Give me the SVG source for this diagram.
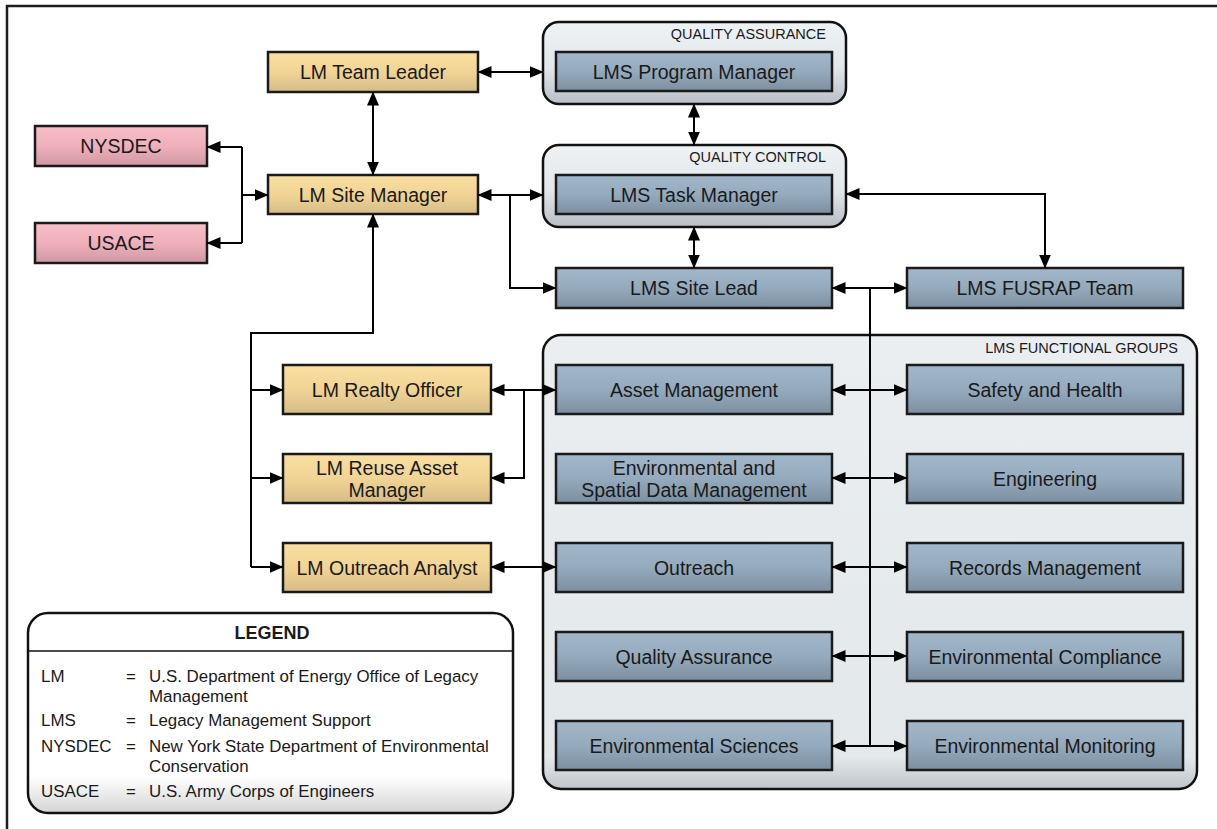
<svg xmlns="http://www.w3.org/2000/svg" width="1217" height="829" viewBox="0 0 1217 829">
<defs>
<linearGradient id="gTan" x1="0" y1="0" x2="0" y2="1"><stop offset="0" stop-color="#f9dfa2"/><stop offset="0.5" stop-color="#f1d495"/><stop offset="1" stop-color="#d5bb87"/></linearGradient>
<linearGradient id="gBlue" x1="0" y1="0" x2="0" y2="1"><stop offset="0" stop-color="#a2b7c9"/><stop offset="0.5" stop-color="#95aabd"/><stop offset="1" stop-color="#7c8fa0"/></linearGradient>
<linearGradient id="gPink" x1="0" y1="0" x2="0" y2="1"><stop offset="0" stop-color="#f8bec7"/><stop offset="0.5" stop-color="#efb0bb"/><stop offset="1" stop-color="#cf98a3"/></linearGradient>
<linearGradient id="gCont" x1="0" y1="0" x2="0" y2="1"><stop offset="0" stop-color="#eef2f5"/><stop offset="0.55" stop-color="#e2e7eb"/><stop offset="1" stop-color="#b8bec4"/></linearGradient>
<linearGradient id="gBig" x1="0" y1="0" x2="0" y2="1"><stop offset="0" stop-color="#eaeef1"/><stop offset="0.93" stop-color="#e3e8eb"/><stop offset="1" stop-color="#bfc5ca"/></linearGradient>
<linearGradient id="gLeg" x1="0" y1="0" x2="0" y2="1"><stop offset="0" stop-color="#ffffff"/><stop offset="0.82" stop-color="#ffffff"/><stop offset="1" stop-color="#d4d4d4"/></linearGradient>
<marker id="ar" markerUnits="userSpaceOnUse" markerWidth="14" markerHeight="12" viewBox="0 0 14 12" refX="13.5" refY="6" orient="auto-start-reverse"><path d="M0,0 L14,6 L0,12 z" fill="#000"/></marker>
</defs>
<style>
.tan{fill:url(#gTan);stroke:#1a1a1a;stroke-width:2.5}
.blue{fill:url(#gBlue);stroke:#1a1a1a;stroke-width:2.5}
.pink{fill:url(#gPink);stroke:#1a1a1a;stroke-width:2.5}
.cont{fill:url(#gCont);stroke:#111;stroke-width:2.5}
.big{fill:url(#gBig);stroke:#111;stroke-width:2.5}
text{font-family:"Liberation Sans",Arial,sans-serif;fill:#1a1a1a}
.t{font-size:19.5px;text-anchor:middle}
.c{font-size:14.5px;text-anchor:end}
.lg{font-size:16.9px}
.conn path{fill:none;stroke:#000;stroke-width:2}
.both{marker-start:url(#ar);marker-end:url(#ar)}
.end{marker-end:url(#ar)}
.start{marker-start:url(#ar)}
</style>
<rect width="1217" height="829" fill="#fff"/>
<path d="M7,829 V6 H1217" fill="none" stroke="#1c1c1c" stroke-width="2.5"/>

<g id="qa-container"><rect class="cont" x="543" y="22" width="303" height="82" rx="16"/><text class="c" x="826" y="39">QUALITY ASSURANCE</text></g>
<g id="qc-container"><rect class="cont" x="543" y="145" width="303" height="82" rx="16"/><text class="c" x="826" y="162">QUALITY CONTROL</text></g>
<g id="fg-container"><rect class="big" x="543" y="335" width="654" height="454" rx="18"/><text class="c" x="1178" y="353">LMS FUNCTIONAL GROUPS</text></g>

<g id="lm-team-leader"><rect class="tan" x="268" y="52" width="210" height="40"/><text class="t" x="373" y="79">LM Team Leader</text></g>
<g id="lm-site-manager"><rect class="tan" x="268" y="175" width="210" height="39"/><text class="t" x="373" y="202">LM Site Manager</text></g>
<g id="nysdec"><rect class="pink" x="35" y="126" width="172" height="40"/><text class="t" x="121" y="153">NYSDEC</text></g>
<g id="usace"><rect class="pink" x="35" y="223" width="172" height="40"/><text class="t" x="121" y="250">USACE</text></g>

<g id="lms-program-manager"><rect class="blue" x="556" y="52" width="276" height="39"/><text class="t" x="694" y="79">LMS Program Manager</text></g>
<g id="lms-task-manager"><rect class="blue" x="556" y="175" width="276" height="39"/><text class="t" x="694" y="202">LMS Task Manager</text></g>
<g id="lms-site-lead"><rect class="blue" x="556" y="268" width="276" height="40"/><text class="t" x="694" y="295">LMS Site Lead</text></g>
<g id="lms-fusrap-team"><rect class="blue" x="907" y="268" width="276" height="40"/><text class="t" x="1045" y="295">LMS FUSRAP Team</text></g>

<g id="lm-realty-officer"><rect class="tan" x="283" y="365" width="208" height="49"/><text class="t" x="387" y="397">LM Realty Officer</text></g>
<g id="lm-reuse-asset-manager"><rect class="tan" x="283" y="454" width="208" height="49"/><text class="t" x="387" y="475">LM Reuse Asset</text><text class="t" x="387" y="497">Manager</text></g>
<g id="lm-outreach-analyst"><rect class="tan" x="283" y="543" width="208" height="49"/><text class="t" x="387" y="575">LM Outreach Analyst</text></g>

<g id="asset-management"><rect class="blue" x="556" y="365" width="276" height="49"/><text class="t" x="694" y="397">Asset Management</text></g>
<g id="safety-and-health"><rect class="blue" x="907" y="365" width="276" height="49"/><text class="t" x="1045" y="397">Safety and Health</text></g>
<g id="env-spatial-data"><rect class="blue" x="556" y="454" width="276" height="49"/><text class="t" x="694" y="475">Environmental and</text><text class="t" x="694" y="497">Spatial Data Management</text></g>
<g id="engineering"><rect class="blue" x="907" y="454" width="276" height="49"/><text class="t" x="1045" y="486">Engineering</text></g>
<g id="outreach"><rect class="blue" x="556" y="543" width="276" height="49"/><text class="t" x="694" y="575">Outreach</text></g>
<g id="records-management"><rect class="blue" x="907" y="543" width="276" height="49"/><text class="t" x="1045" y="575">Records Management</text></g>
<g id="quality-assurance"><rect class="blue" x="556" y="632" width="276" height="49"/><text class="t" x="694" y="664">Quality Assurance</text></g>
<g id="environmental-compliance"><rect class="blue" x="907" y="632" width="276" height="49"/><text class="t" x="1045" y="664">Environmental Compliance</text></g>
<g id="environmental-sciences"><rect class="blue" x="556" y="721" width="276" height="49"/><text class="t" x="694" y="753">Environmental Sciences</text></g>
<g id="environmental-monitoring"><rect class="blue" x="907" y="721" width="276" height="49"/><text class="t" x="1045" y="753">Environmental Monitoring</text></g>

<g id="legend">
<rect x="28" y="613" width="485" height="200" rx="20" fill="url(#gLeg)" stroke="#111" stroke-width="2.5"/>
<line x1="28" y1="651" x2="513" y2="651" stroke="#111" stroke-width="1.5"/>
<text x="272" y="639" font-size="18" font-weight="bold" text-anchor="middle">LEGEND</text>
<text class="lg" x="41" y="682">LM</text><text class="lg" x="126" y="682">=</text><text class="lg" x="149" y="682">U.S. Department of Energy Office of Legacy</text>
<text class="lg" x="149" y="702">Management</text>
<text class="lg" x="41" y="726">LMS</text><text class="lg" x="126" y="726">=</text><text class="lg" x="149" y="726">Legacy Management Support</text>
<text class="lg" x="41" y="752">NYSDEC</text><text class="lg" x="126" y="752">=</text><text class="lg" x="149" y="752">New York State Department of Environmental</text>
<text class="lg" x="149" y="772">Conservation</text>
<text class="lg" x="41" y="797">USACE</text><text class="lg" x="126" y="797">=</text><text class="lg" x="149" y="797">U.S. Army Corps of Engineers</text>
</g>

<g id="connectors" class="conn">
<path class="both" d="M478,72 H543"/>
<path class="both" d="M373,92 V175"/>
<path class="both" d="M694,104 V145"/>
<path class="end" d="M242,147 H207"/>
<path class="end" d="M242,243 H207"/>
<path d="M242,147 V243"/>
<path class="end" d="M242,195 H268"/>
<path class="both" d="M478,195 H543"/>
<path class="end" d="M510,195 V288 H556"/>
<path class="both" d="M694,227 V268"/>
<path class="both" d="M846,194 H1045 V268"/>
<path class="both" d="M832,288 H907"/>
<path d="M870,288 V746"/>
<path class="both" d="M832,390 H907"/>
<path class="both" d="M832,478 H907"/>
<path class="both" d="M832,567 H907"/>
<path class="both" d="M832,656 H907"/>
<path class="both" d="M832,746 H907"/>
<path class="start" d="M373,214 V333 H251 V567"/>
<path class="end" d="M251,390 H283"/>
<path class="end" d="M251,478 H283"/>
<path class="end" d="M251,567 H283"/>
<path class="both" d="M491,390 H556"/>
<path class="end" d="M524,390 V478 H491"/>
<path class="both" d="M491,567 H556"/>
</g>
</svg>
